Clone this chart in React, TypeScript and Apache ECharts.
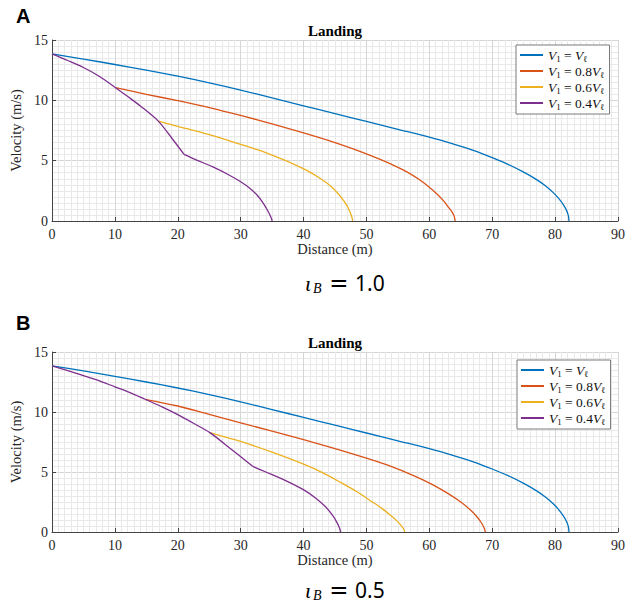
import React, { useEffect, useRef } from "react";
import * as echarts from "echarts";

// Axis settings
const X_MIN = 0;
const X_MAX = 90;
const X_STEP = 10;
const Y_MIN = 0;
const Y_MAX = 15;
const Y_STEP = 5;

const SERIES_NAMES = ["V1 = Vℓ", "V1 = 0.8Vℓ", "V1 = 0.6Vℓ", "V1 = 0.4Vℓ"];
const COLORS = ["#0072BD", "#D95319", "#EDB120", "#7E2F8E"];
const PANEL_LABELS = ["A", "B"];
const PANEL_TITLE = "Landing";
const IOTA_VALUES = ["1.0", "0.5"];

// ---- Blue curve (same in both panels) ----
const blueX = [0, 5, 10, 15, 20, 25, 30, 35, 40, 45, 50, 55, 60, 64, 67, 70, 72.5, 75, 77, 78.5, 79.7, 80.6, 81.3, 81.8, 82.05, 82.15, 82.2];
const blueY = [13.85, 13.42, 12.97, 12.5, 12.0, 11.45, 10.85, 10.2, 9.55, 8.9, 8.25, 7.6, 6.95, 6.35, 5.85, 5.25, 4.7, 4.05, 3.45, 2.9, 2.35, 1.85, 1.35, 0.9, 0.55, 0.32, 0];

// ---- Panel A (ι_B = 1.0) ----
const redAX = [10.1, 15, 20, 25, 30, 35, 40, 45, 48, 51, 54, 56.5, 58.5, 60, 61.3, 62.3, 63.1, 63.6, 63.9, 64.05, 64.1];
const redAY = [11.05, 10.5, 9.97, 9.4, 8.75, 8.05, 7.3, 6.5, 5.95, 5.35, 4.7, 4.05, 3.4, 2.8, 2.2, 1.65, 1.1, 0.75, 0.45, 0.2, 0];

const yellowAX = [16.9, 20, 25, 30, 33, 36, 38.5, 40.5, 42.3, 43.8, 45, 46, 46.8, 47.3, 47.6, 47.75, 47.8];
const yellowAY = [8.28, 7.85, 7.15, 6.35, 5.85, 5.25, 4.7, 4.2, 3.65, 3.1, 2.55, 1.95, 1.35, 0.85, 0.45, 0.18, 0];

const purpleA1X = [0, 2.5, 5, 7.5, 10.1, 12, 14, 16.9, 19, 21];
const purpleA1Y = [13.85, 13.3, 12.72, 12.0, 11.05, 10.33, 9.55, 8.28, 6.9, 5.52];
const purpleA2X = [21, 23, 25.5, 28, 30, 31.5, 32.6, 33.5, 34.2, 34.65, 34.9, 35];
const purpleA2Y = [5.52, 5.05, 4.5, 3.85, 3.25, 2.7, 2.15, 1.55, 0.95, 0.5, 0.2, 0];

// ---- Panel B (ι_B = 0.5) ----
const redBX = [14.8, 20, 25, 30, 35, 40, 45, 50, 54, 57.5, 60.5, 63, 65, 66.5, 67.6, 68.3, 68.7, 68.85, 68.9];
const redBY = [11.06, 10.5, 9.8, 9.1, 8.4, 7.7, 6.95, 6.15, 5.45, 4.7, 3.95, 3.2, 2.5, 1.85, 1.25, 0.75, 0.35, 0.12, 0];

const yellowBX = [25.1, 28, 30, 35, 40, 43, 46, 48.5, 50.5, 52.5, 53.8, 54.8, 55.5, 55.9, 56.1];
const yellowBY = [8.28, 7.85, 7.55, 6.65, 5.65, 4.95, 4.1, 3.35, 2.65, 1.95, 1.4, 0.95, 0.55, 0.25, 0];

const purpleB1X = [0, 4, 7, 10, 12.5, 14.8, 17.5, 20, 22.5, 25.1, 28.4, 31.9];
const purpleB1Y = [13.85, 13.2, 12.7, 12.1, 11.6, 11.06, 10.43, 9.78, 9.06, 8.28, 6.94, 5.47];
const purpleB2X = [31.9, 34, 36.9, 39.9, 42, 43.5, 44.6, 45.3, 45.7, 45.9];
const purpleB2Y = [5.47, 5.0, 4.35, 3.55, 2.8, 2.1, 1.4, 0.8, 0.35, 0];

const zip = (xs: number[], ys: number[]) => xs.map((x, i) => [x, ys[i]]);

const GRIDS = [
  { left: 52, top: 40, width: 566, height: 181 },
  { left: 52, top: 352, width: 566, height: 180 },
];

const LEGEND_POS = [
  { left: 516, top: 45 },
  { left: 517, top: 360 },
];

const legendRich: Record<string, string> = {
  "V1 = Vℓ": "{v|V}{s|1}{t| = }{v|V}{s|ℓ}",
  "V1 = 0.8Vℓ": "{v|V}{s|1}{t| = 0.8}{v|V}{s|ℓ}",
  "V1 = 0.6Vℓ": "{v|V}{s|1}{t| = 0.6}{v|V}{s|ℓ}",
  "V1 = 0.4Vℓ": "{v|V}{s|1}{t| = 0.4}{v|V}{s|ℓ}",
};

const SERIF = '"Liberation Serif", "Times New Roman", serif';

function buildOption() {
  const panels = [
    {
      blue: zip(blueX, blueY),
      red: zip(redAX, redAY),
      yellow: zip(yellowAX, yellowAY),
      purple1: zip(purpleA1X, purpleA1Y),
      purple2: zip(purpleA2X, purpleA2Y),
    },
    {
      blue: zip(blueX, blueY),
      red: zip(redBX, redBY),
      yellow: zip(yellowBX, yellowBY),
      purple1: zip(purpleB1X, purpleB1Y),
      purple2: zip(purpleB2X, purpleB2Y),
    },
  ];

  const xAxes = GRIDS.map((_, i) => ({
    type: "value",
    gridIndex: i,
    min: X_MIN,
    max: X_MAX,
    interval: X_STEP,
    name: "Distance (m)",
    nameLocation: "middle",
    nameGap: 16,
    nameTextStyle: { fontFamily: SERIF, fontSize: 14.5, color: "#262626" },
    axisLine: { show: true, onZero: false, lineStyle: { color: "#444", width: 1 } },
    axisTick: { show: true, inside: true, length: 4, lineStyle: { color: "#444" } },
    axisLabel: { fontFamily: SERIF, fontSize: 14, color: "#262626", margin: 6 },
    splitLine: { show: true, lineStyle: { color: "#d6d6d6", width: 1 } },
    minorTick: { show: false, splitNumber: 10 },
    minorSplitLine: { show: true, lineStyle: { color: "#e9e9e9", width: 1 } },
  }));

  const yAxes = GRIDS.map((_, i) => ({
    type: "value",
    gridIndex: i,
    min: Y_MIN,
    max: Y_MAX,
    interval: Y_STEP,
    name: "Velocity (m/s)",
    nameLocation: "middle",
    nameGap: 14,
    nameTextStyle: { fontFamily: SERIF, fontSize: 14.5, color: "#262626" },
    axisLine: { show: true, onZero: false, lineStyle: { color: "#444", width: 1 } },
    axisTick: { show: true, inside: true, length: 4, lineStyle: { color: "#444" } },
    axisLabel: { fontFamily: SERIF, fontSize: 14, color: "#262626", margin: 4 },
    splitLine: { show: true, lineStyle: { color: "#d6d6d6", width: 1 } },
    minorTick: { show: false, splitNumber: 10 },
    minorSplitLine: { show: true, lineStyle: { color: "#e9e9e9", width: 1 } },
  }));

  const series: any[] = [];
  panels.forEach((p, i) => {
    const list = [
      { name: SERIES_NAMES[0], data: p.blue, color: COLORS[0] },
      { name: SERIES_NAMES[1], data: p.red, color: COLORS[1] },
      { name: SERIES_NAMES[2], data: p.yellow, color: COLORS[2] },
      { name: SERIES_NAMES[3], data: p.purple1, color: COLORS[3] },
      { name: SERIES_NAMES[3], data: p.purple2, color: COLORS[3] },
    ];
    list.forEach((s) => {
      series.push({
        type: "line",
        name: s.name,
        xAxisIndex: i,
        yAxisIndex: i,
        data: s.data,
        showSymbol: false,
        symbol: "none",
        smooth: 0.3,
        color: s.color,
        lineStyle: { color: s.color, width: 1.3 },
        z: 3,
      });
    });
  });

  const legends = LEGEND_POS.map((pos) => ({
    show: true,
    orient: "vertical",
    left: pos.left,
    top: pos.top,
    data: SERIES_NAMES,
    icon: "rect",
    itemWidth: 23,
    itemHeight: 2,
    itemGap: 1,
    padding: [3, 5, 3, 4],
    backgroundColor: "#ffffff",
    borderColor: "#7a7a7a",
    borderWidth: 1,
    borderRadius: 0,
    selectedMode: false,
    formatter: (name: string) => legendRich[name] || name,
    textStyle: {
      fontFamily: SERIF,
      fontSize: 13.5,
      color: "#111",
      rich: {
        v: { fontFamily: SERIF, fontStyle: "italic", fontSize: 13.5, lineHeight: 16, color: "#111" },
        t: { fontFamily: SERIF, fontSize: 13.5, lineHeight: 16, color: "#111" },
        s: { fontFamily: SERIF, fontSize: 9, lineHeight: 8, verticalAlign: "bottom", color: "#111" },
      },
    },
  }));

  const graphic: any[] = [];
  PANEL_LABELS.forEach((lab, i) => {
    const g = GRIDS[i];
    graphic.push({
      type: "text",
      left: 16,
      top: i === 0 ? 6 : 313,
      style: {
        text: lab,
        fontFamily: '"Liberation Sans", Arial, sans-serif',
        fontWeight: "bold",
        fontSize: 20,
        fill: "#000",
      },
    });
    graphic.push({
      type: "text",
      x: g.left + g.width / 2,
      y: g.top - 9,
      style: {
        text: PANEL_TITLE,
        fontFamily: SERIF,
        fontWeight: "bold",
        fontSize: 15,
        fill: "#000",
        textAlign: "center",
        textVerticalAlign: "middle",
      },
    });
    const baseY = i === 0 ? 290 : 597;
    graphic.push({
      type: "text",
      x: 305,
      y: baseY - 7,
      style: {
        text: "ι",
        fontFamily: SERIF,
        fontStyle: "italic",
        fontSize: 22,
        fill: "#000",
        textAlign: "left",
        textVerticalAlign: "middle",
      },
    });
    graphic.push({
      type: "text",
      x: 313,
      y: baseY - 2,
      style: {
        text: "B",
        fontFamily: SERIF,
        fontStyle: "italic",
        fontSize: 14,
        fill: "#000",
        textAlign: "left",
        textVerticalAlign: "middle",
      },
    });
    graphic.push({
      type: "text",
      x: 339,
      y: baseY - 7,
      style: {
        text: "=",
        fontFamily: '"DejaVu Sans", sans-serif',
        fontSize: 23,
        fill: "#000",
        textAlign: "center",
        textVerticalAlign: "middle",
      },
    });
    graphic.push({
      type: "text",
      x: 355,
      y: baseY - 7.5,
      style: {
        text: IOTA_VALUES[i],
        fontFamily: '"Noto Sans", "Open Sans", sans-serif',
        fontSize: 21,
        fill: "#000",
        textAlign: "left",
        textVerticalAlign: "middle",
      },
    });
  });

  return {
    animation: false,
    backgroundColor: "#ffffff",
    grid: GRIDS.map((g) => ({ ...g, containLabel: false })),
    xAxis: xAxes,
    yAxis: yAxes,
    legend: legends,
    series,
    graphic,
  };
}

export default function App() {
  const ref = useRef<HTMLDivElement>(null);
  useEffect(() => {
    if (!ref.current) return;
    const chart = echarts.init(ref.current, undefined, { renderer: "svg" });
    chart.setOption(buildOption() as any);
    return () => {
      chart.dispose();
    };
  }, []);
  return (
    <div
      ref={ref}
      style={{ position: "fixed", left: 0, top: 0, width: 638, height: 607, background: "#fff" }}
    />
  );
}
